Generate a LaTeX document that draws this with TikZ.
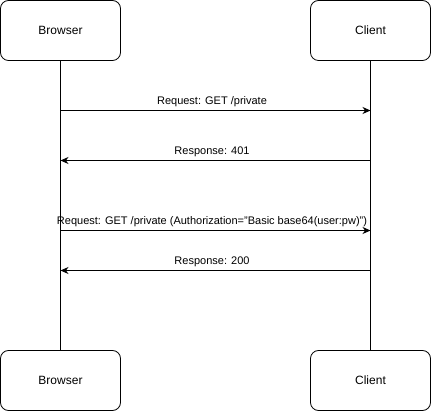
\documentclass[tikz,border=0pt]{standalone}
\usepackage{fontspec}
\setmainfont{Liberation Sans}
\usetikzlibrary{arrows.meta}
\begin{document}
\begin{tikzpicture}[x=1pt,y=-1pt,
  actor/.style={draw,rounded corners=8pt,minimum width=120pt,minimum height=60pt,inner sep=0pt,font=\fontsize{12}{14}\selectfont,line width=0.8pt},
  msg/.style={-{Stealth[length=8pt,width=7pt]},line width=0.8pt},
  lbl/.style={font=\fontsize{11}{13}\selectfont,inner sep=0pt,anchor=base}]
\useasboundingbox (0,0) rectangle (431,411);
\node[actor] (bt) at (60.5,30.5) {Browser};
\node[actor] (ct) at (370.5,30.5) {Client};
\node[actor] (bb) at (60.5,380.5) {Browser};
\node[actor] (cb) at (370.5,380.5) {Client};
\draw[line width=0.8pt] (bt.south) -- (bb.north);
\draw[line width=0.8pt] (ct.south) -- (cb.north);
\coordinate (b1) at (60.5,110.5); \coordinate (c1) at (370.5,110.5);
\coordinate (b2) at (60.5,160.5); \coordinate (c2) at (370.5,160.5);
\coordinate (b3) at (60.5,230.5); \coordinate (c3) at (370.5,230.5);
\coordinate (b4) at (60.5,270.5); \coordinate (c4) at (370.5,270.5);
\draw[msg] (b1) -- (c1);
\draw[msg] (c2) -- (b2);
\draw[msg] (b3) -- (c3);
\draw[msg] (c4) -- (b4);
\node[lbl] (l1) at (212,105) {Request: GET /private};
\node[lbl] (l2) at (212,155) {Response: 401};
\node[lbl] (l3) at (212,225) {Request: GET /private (Authorization="Basic base64(user:pw)")};
\node[lbl] (l4) at (212,265) {Response: 200};
\end{tikzpicture}
\end{document}
